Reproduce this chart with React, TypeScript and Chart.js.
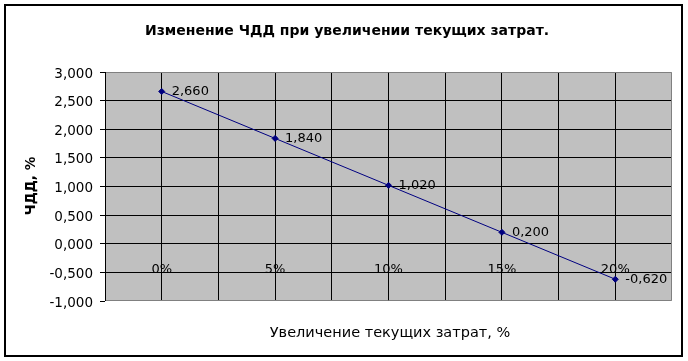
import React, { useEffect, useRef } from "react";
import { Chart, registerables } from "chart.js";

Chart.register(...registerables);

const categories = ["0%", "5%", "10%", "15%", "20%"];
const npvValues = [2.66, 1.84, 1.02, 0.2, -0.62];
const chartTitle = "Изменение ЧДД при увеличении текущих затрат.";
const yTitle = "ЧДД, %";
const xTitle = "Увеличение текущих затрат, %";

const fmt = (v: number) => v.toFixed(3).replace(".", ",");
const FONT = "'DejaVu Sans', sans-serif";

const decorPlugin = {
  id: "decor",
  beforeDraw(chart: any) {
    const { ctx, chartArea: a } = chart;
    ctx.save();
    ctx.fillStyle = "#ffffff";
    ctx.fillRect(0, 0, chart.width, chart.height);
    ctx.fillStyle = "#c0c0c0";
    ctx.fillRect(a.left, a.top, a.right - a.left, a.bottom - a.top);
    ctx.restore();
  },
  afterDraw(chart: any) {
    const { ctx, chartArea: a, scales } = chart;
    ctx.save();
    ctx.strokeStyle = "#808080";
    ctx.lineWidth = 1;
    ctx.beginPath();
    ctx.moveTo(a.left, a.top + 0.5);
    ctx.lineTo(a.right - 0.5, a.top + 0.5);
    ctx.lineTo(a.right - 0.5, a.bottom - 0.5);
    ctx.lineTo(a.left, a.bottom - 0.5);
    ctx.stroke();
    ctx.strokeStyle = "#000000";
    ctx.beginPath();
    ctx.moveTo(a.left + 0.5, a.top);
    ctx.lineTo(a.left + 0.5, a.bottom);
    ctx.stroke();
    ctx.lineWidth = 2;
    ctx.strokeRect(5, 5, 677, 351);
    ctx.fillStyle = "#000000";
    ctx.textAlign = "center";
    ctx.textBaseline = "alphabetic";
    ctx.font = `bold 14px ${FONT}`;
    ctx.fillText(chartTitle, 347, 35);
    ctx.font = `14.5px ${FONT}`;
    ctx.fillText(xTitle, 390, 337);
    ctx.save();
    ctx.translate(35, 186);
    ctx.rotate(-Math.PI / 2);
    ctx.font = `bold 13.5px ${FONT}`;
    ctx.fillText(yTitle, 0, 0);
    ctx.restore();
    const y0 = scales.y.getPixelForValue(0);
    ctx.font = `13px ${FONT}`;
    categories.forEach((c, i) => {
      ctx.fillText(c, scales.x.getPixelForValue(i), y0 + 29);
    });
    ctx.textAlign = "left";
    npvValues.forEach((v, i) => {
      ctx.fillText(fmt(v), scales.x.getPixelForValue(i) + 10, scales.y.getPixelForValue(v) + 4);
    });
    ctx.restore();
  },
};

export default function App() {
  const ref = useRef<HTMLCanvasElement | null>(null);
  useEffect(() => {
    document.body.style.margin = "0";
    const chart = new Chart(ref.current as HTMLCanvasElement, {
      type: "line",
      data: {
        datasets: [
          {
            data: npvValues.map((v, i) => ({ x: i, y: v })),
            borderColor: "#000080",
            backgroundColor: "#000080",
            borderWidth: 1,
            pointStyle: "rectRot",
            pointRadius: 3,
            pointBorderWidth: 1,
          },
        ],
      },
      options: {
        animation: false,
        responsive: false,
        events: [],
        layout: { padding: { left: 0, top: 72, right: 16, bottom: 60 } },
        plugins: { legend: { display: false }, tooltip: { enabled: false } },
        scales: {
          x: {
            type: "linear",
            min: -0.5,
            max: 4.5,
            afterBuildTicks: (s: any) => {
              const t = [];
              for (let k = -1; k <= 9; k++) t.push({ value: k / 2 });
              s.ticks = t;
            },
            afterFit: (s: any) => {
              s.height = 0;
            },
            ticks: { display: false },
            border: { display: false },
            grid: {
              color: (c: any) =>
                c.tick && (c.tick.value === -0.5 || c.tick.value === 4.5) ? "rgba(0,0,0,0)" : "#000000",
              lineWidth: 1,
              drawTicks: false,
            },
          },
          y: {
            min: -1,
            max: 3,
            afterFit: (s: any) => {
              s.width = 105;
            },
            ticks: {
              stepSize: 0.5,
              padding: 7,
              labelOffset: 2,
              color: "#000000",
              font: { family: FONT, size: 13.5 },
              callback: (v: any) => fmt(Number(v)),
            },
            border: { display: false },
            grid: {
              color: (c: any) =>
                c.tick && (c.tick.value === 3 || c.tick.value === -1) ? "rgba(0,0,0,0)" : "#000000",
              tickColor: "#000000",
              tickLength: 5,
              lineWidth: 1,
            },
          },
        },
      } as any,
      plugins: [decorPlugin],
    });
    return () => chart.destroy();
  }, []);
  return (
    <div style={{ position: "absolute", left: 0, top: 0, width: 688, height: 361 }}>
      <canvas ref={ref} width={688} height={361} />
    </div>
  );
}
